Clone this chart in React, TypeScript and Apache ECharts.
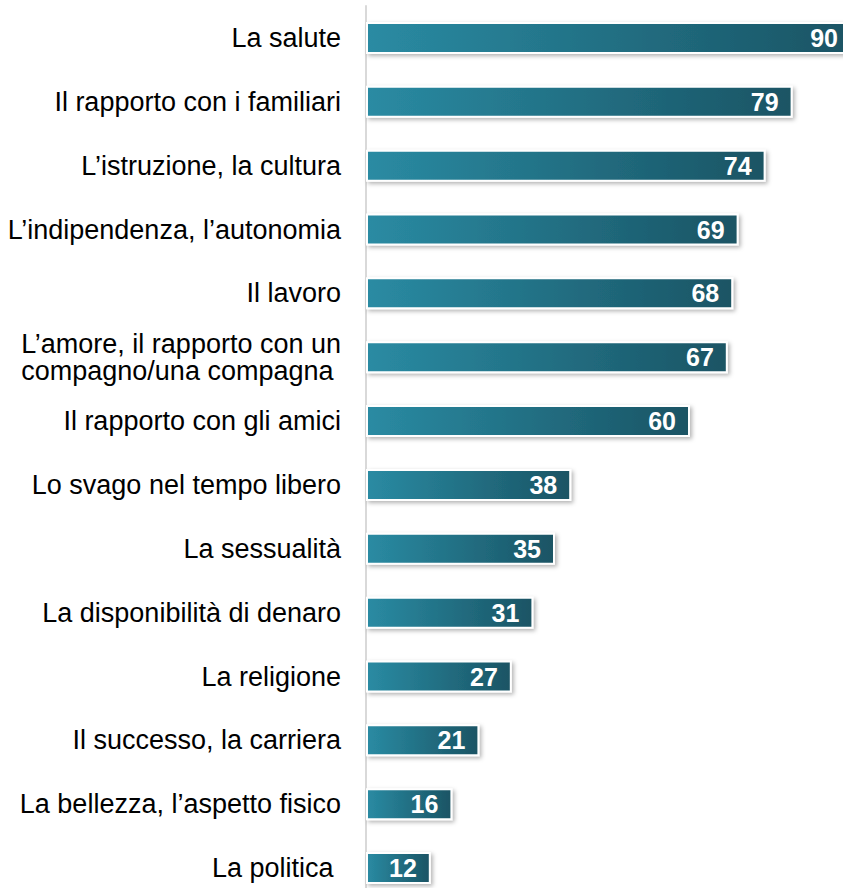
import React, { useEffect, useRef } from "react";
import * as echarts from "echarts";

const categories = [
  "La salute",
  "Il rapporto con i familiari",
  "L’istruzione, la cultura",
  "L’indipendenza, l’autonomia",
  "Il lavoro",
  "L’amore, il rapporto con un\ncompagno/una compagna ",
  "Il rapporto con gli amici",
  "Lo svago nel tempo libero",
  "La sessualità",
  "La disponibilità di denaro",
  "La religione",
  "Il successo, la carriera",
  "La bellezza, l’aspetto fisico",
  "La politica ",
];
const values = [90, 79, 74, 69, 68, 67, 60, 38, 35, 31, 27, 21, 16, 12];

export default function App() {
  const ref = useRef<HTMLDivElement>(null);
  useEffect(() => {
    const chart = echarts.init(ref.current!, undefined, { renderer: "svg" });
    chart.setOption({
      animation: false,
      grid: { left: 366, top: 6, right: 18, bottom: 0, containLabel: false },
      xAxis: {
        type: "value",
        min: 0,
        max: 90,
        show: false,
      },
      yAxis: {
        type: "category",
        data: categories,
        inverse: true,
        axisLine: { show: true, lineStyle: { color: "#D9D9D9", width: 2 } },
        axisTick: { show: false },
        axisLabel: {
          color: "#000",
          fontSize: 27,
          fontFamily: "Liberation Sans, Arial, sans-serif",
          margin: 25,
          lineHeight: 27,
          align: "right",
        },
      },
      series: [
        {
          type: "bar",
          data: values,
          barWidth: 32,
          itemStyle: {
            color: new echarts.graphic.LinearGradient(0, 0, 1, 0, [
              { offset: 0, color: "#2A8BA3" },
              { offset: 1, color: "#1A5464" },
            ]),
            borderColor: "#FFFFFF",
            borderWidth: 2,
            shadowColor: "rgba(0,0,0,0.3)",
            shadowBlur: 4,
            shadowOffsetX: 2,
            shadowOffsetY: 2,
          },
          label: {
            show: true,
            position: "insideRight",
            distance: 14,
            color: "#FFFFFF",
            fontSize: 25,
            fontWeight: "bold",
            fontFamily: "Liberation Sans, Arial, sans-serif",
          },
        },
      ],
    });
    return () => chart.dispose();
  }, []);
  return (
    <div
      ref={ref}
      style={{ position: "fixed", left: 0, top: 0, width: 870, height: 900, background: "#fff" }}
    />
  );
}
